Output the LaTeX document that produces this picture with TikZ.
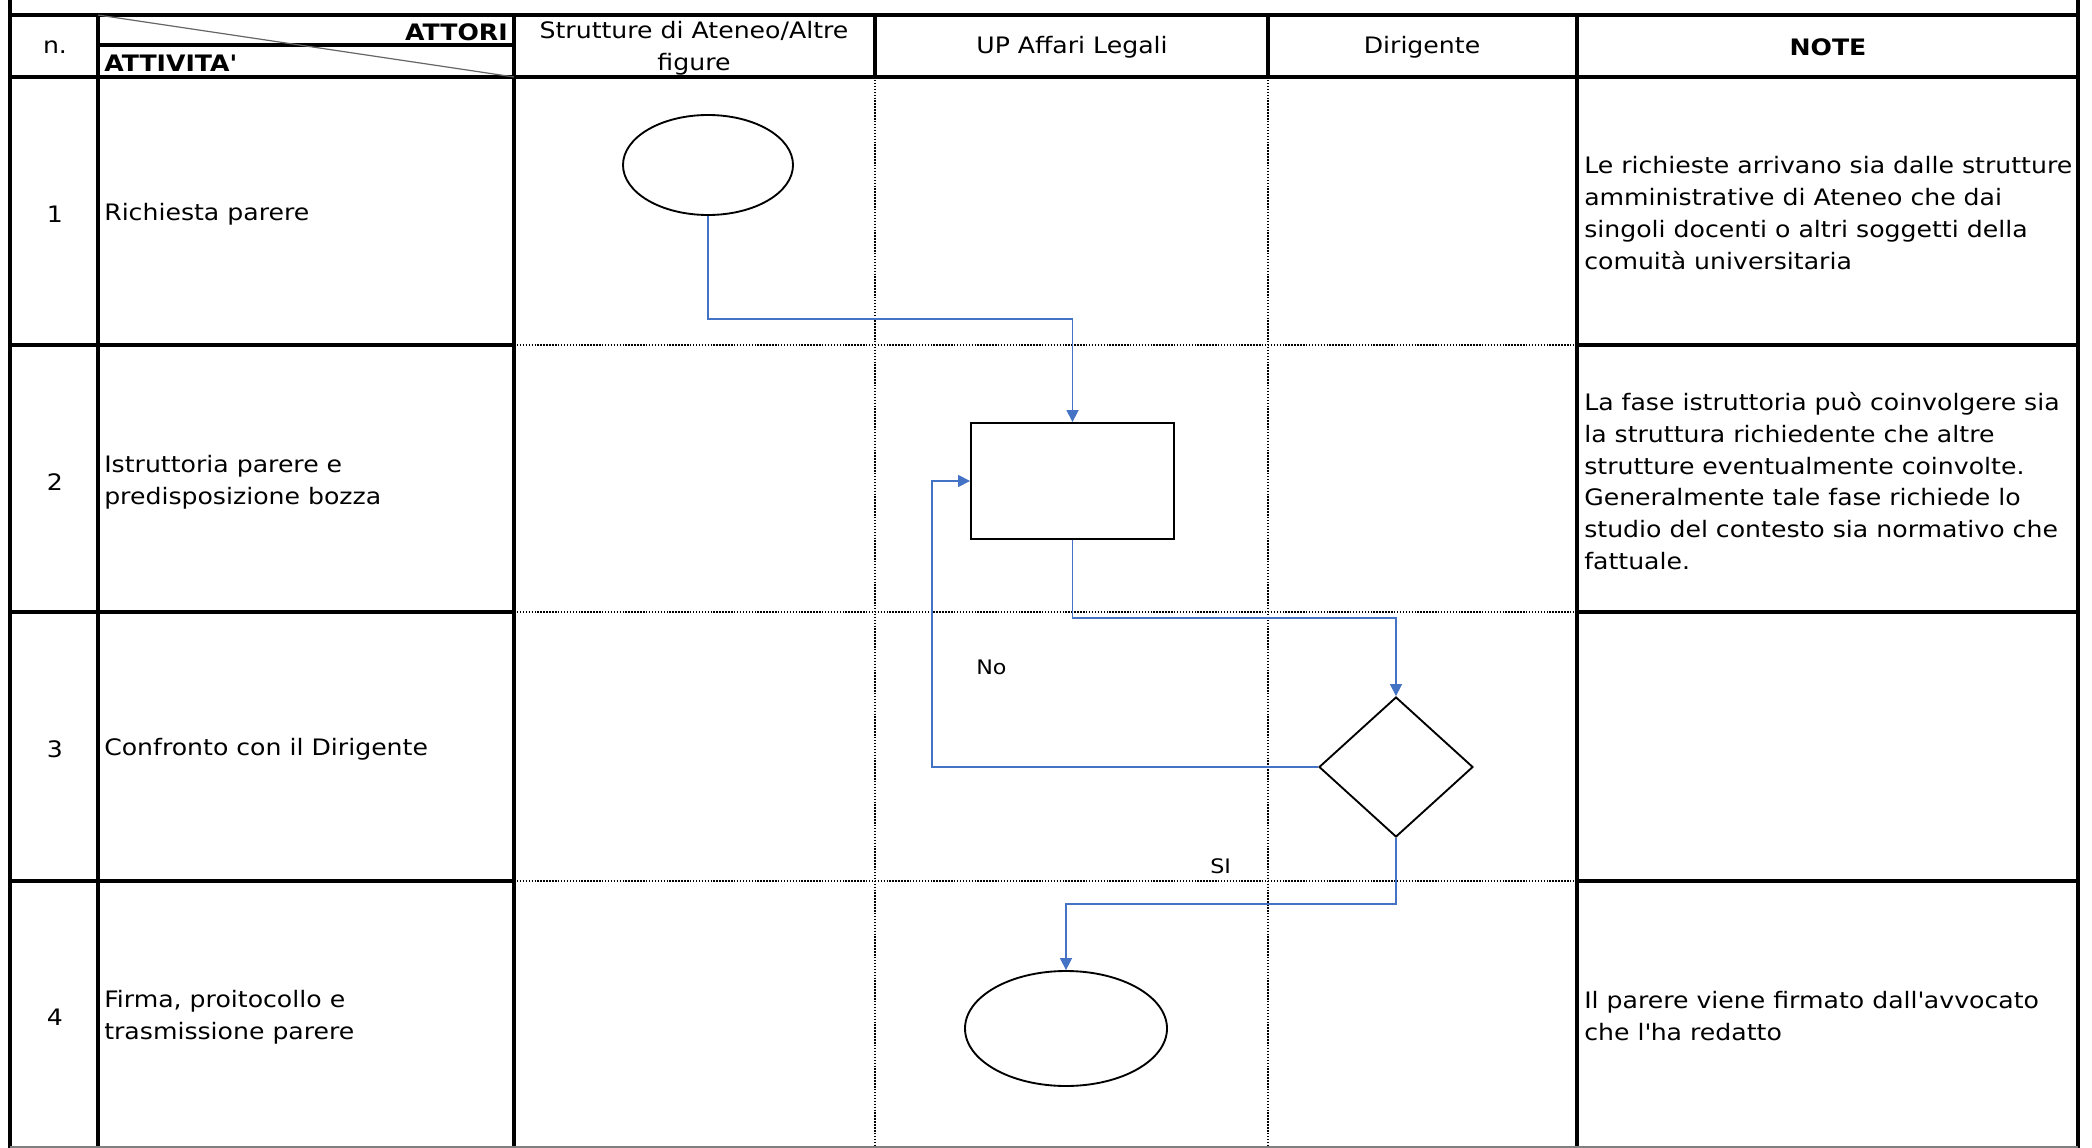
\documentclass[tikz,border=0pt]{standalone}
\usepackage{fontspec}
\setmainfont{DejaVu Sans}[FakeStretch=1.11]
\usetikzlibrary{shapes.geometric,arrows.meta}
\definecolor{flowblue}{HTML}{4472C4}
\begin{document}
\begin{tikzpicture}[x=0.75pt,y=-0.75pt,
  gridthick/.style={line width=2.4pt,line cap=rect},
  griddot/.style={line width=1.1pt,dash pattern=on 1.1pt off 1.1pt},
  txt/.style={inner sep=0pt,font=\fontsize{17pt}{23.8pt}\selectfont,align=left,anchor=west},
  ctxt/.style={inner sep=0pt,font=\fontsize{17pt}{23.8pt}\selectfont,align=center},
  lbl/.style={inner sep=0pt,font=\fontsize{15pt}{18pt}\selectfont},
  shp/.style={draw=black,line width=1.4pt,inner sep=0pt},
  flow/.style={draw=flowblue,line width=1.2pt,-{Triangle[length=9pt,width=9pt]}},
]
\useasboundingbox (0,0) rectangle (2092,1148);
% ---------- grid ----------
\draw[gridthick] (10,0) -- (10,1147);
\draw[gridthick] (2078,0) -- (2078,1147);
\draw[gridthick] (98,15) -- (98,1147);
\draw[gridthick] (514,15) -- (514,1147);
\draw[gridthick] (1577,15) -- (1577,1147);
\draw[gridthick] (875,15) -- (875,77);
\draw[gridthick] (1268,15) -- (1268,77);
\draw[griddot] (875,77) -- (875,1147);
\draw[griddot] (1268,77) -- (1268,1147);
\draw[gridthick] (10,15) -- (2078,15);
\draw[gridthick] (10,77) -- (2078,77);
\draw[gridthick] (98,45) -- (514,45);
\foreach \yy in {345,612,881}{
  \draw[gridthick] (10,\yy) -- (514,\yy);
  \draw[griddot] (514,\yy) -- (1577,\yy);
  \draw[gridthick] (1577,\yy) -- (2078,\yy);
}
\draw[gray,line width=1.2pt] (10,1147) -- (2078,1147);
\draw[gray!80!black,line width=0.9pt] (98,15) -- (514,77);
% ---------- header ----------
\node[ctxt] (hn) at (55,47) {n.};
\node[txt,anchor=east,font=\fontsize{17pt}{23.8pt}\selectfont\bfseries] (hattori) at (508,32) {ATTORI};
\node[txt,font=\fontsize{17pt}{23.8pt}\selectfont\bfseries] (hattivita) at (104,63) {ATTIVITA\textquotesingle};
\node[ctxt] (hstrut) at (694,48) {Strutture di Ateneo/Altre\\figure};
\node[ctxt] (hup) at (1072,47) {UP Affari Legali};
\node[ctxt] (hdir) at (1422,47) {Dirigente};
\node[ctxt,font=\fontsize{17pt}{23.8pt}\selectfont\bfseries] (hnote) at (1828,47) {NOTE};
% ---------- rows ----------
\node[ctxt] (n1) at (55,214) {1};
\node[ctxt] (n2) at (55,482) {2};
\node[ctxt] (n3) at (55,749) {3};
\node[ctxt] (n4) at (55,1017) {4};
\node[txt] (a1) at (104,214) {Richiesta parere};
\node[txt] (a2) at (104,482) {Istruttoria parere e\\predisposizione bozza};
\node[txt] (a3) at (104,749) {Confronto con il Dirigente};
\node[txt] (a4) at (104,1017) {Firma, proitocollo e\\trasmissione parere};
\node[txt] (note1) at (1584,213) {Le richieste arrivano sia dalle strutture\\amministrative di Ateneo che dai\\singoli docenti o altri soggetti della\\comuità universitaria};
\node[txt] (note2) at (1584,481) {La fase istruttoria può coinvolgere sia\\la struttura richiedente che altre\\strutture eventualmente coinvolte.\\Generalmente tale fase richiede lo\\studio del contesto sia normativo che\\fattuale.};
\node[txt] (note4) at (1584,1016) {Il parere viene firmato dall\textquotesingle avvocato\\che l\textquotesingle ha redatto};
% ---------- flow shapes ----------
\node[shp,ellipse,minimum width=170*0.75pt,minimum height=100*0.75pt] (start) at (708,165) {};
\node[shp,rectangle,minimum width=203*0.75pt,minimum height=116*0.75pt] (work) at (1072.5,481) {};
\node[shp,diamond,minimum width=154*0.75pt,minimum height=140*0.75pt] (dec) at (1396,767) {};
\node[shp,ellipse,minimum width=202*0.75pt,minimum height=115*0.75pt] (stop) at (1066,1028.5) {};
% ---------- connectors ----------
\draw[flow] (start.south) -- (start.south |- 0,319) -| (work.north);
\draw[flow] (work.south) -- (work.south |- 0,618) -| (dec.north);
\draw[flow] (dec.west) -- (932,767) |- (work.west);
\draw[flow] (dec.south) -- (dec.south |- 0,904) -| (stop.north);
\node[lbl,anchor=west] (no) at (976,667) {No};
\node[lbl,anchor=west] (si) at (1210,866) {SI};
\end{tikzpicture}
\end{document}
